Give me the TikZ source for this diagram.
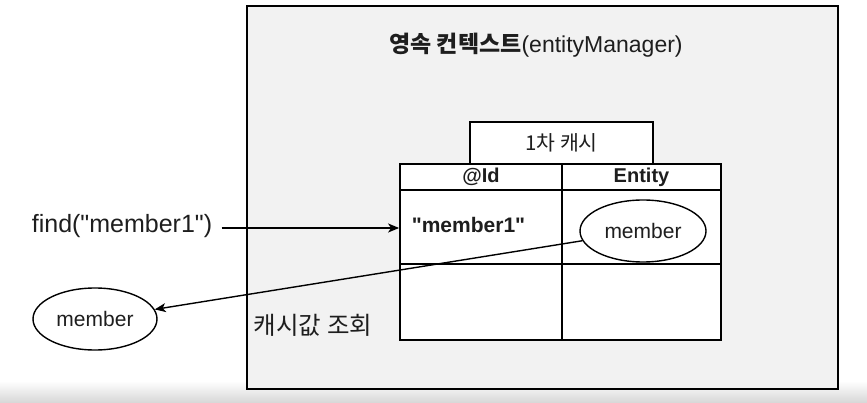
\documentclass[tikz,border=0pt]{standalone}
\usepackage{fontspec}
\setmainfont{Liberation Sans}[Ligatures=TeXOff]
\newfontfamily\kr{Noto Sans CJK KR}
\usetikzlibrary{shapes.geometric,arrows.meta}
\definecolor{ctxgray}{RGB}{242,242,242}
\definecolor{txt}{RGB}{30,30,30}
\tikzset{
  cell/.style={draw, line width=1.8pt, fill=white, inner sep=0pt},
  ent/.style={ellipse, draw, line width=1.4pt, fill=white, inner sep=0pt, text=txt},
  arr/.style={line width=1.4pt, -{Stealth[length=11pt,width=9pt,inset=3pt]}},
}
\begin{document}
\begin{tikzpicture}[x=1pt,y=-1pt]
\useasboundingbox (0,0) rectangle (867,403);
\shade[top color=white, bottom color=black!16] (0,381) rectangle (867,403);
\node[draw, line width=1.8pt, fill=ctxgray, minimum width=591pt, minimum height=383pt, inner sep=0pt] (ctx) at (542.5,197.5) {};
\node[text=txt, font=\fontsize{23}{27}\selectfont] (title) at (536,45) {{\kr\bfseries 영속 컨텍스트}(entityManager)};
\node[cell, minimum width=183pt, minimum height=42pt, font=\fontsize{20.5}{24}\selectfont\kr, text=txt] (cache) at (561.5,143) {1차 캐시};
\node[cell, minimum width=162pt, minimum height=26pt, font=\fontsize{20}{24}\selectfont\bfseries, text=txt] (idh) at (481,177) {@Id};
\node[cell, minimum width=159pt, minimum height=26pt, font=\fontsize{20}{24}\selectfont\bfseries, text=txt] (enth) at (641.5,177) {Entity};
\node[cell, minimum width=162pt, minimum height=74pt] (c11) at (481,227) {};
\node[cell, minimum width=159pt, minimum height=74pt] (c12) at (641.5,227) {};
\node[cell, minimum width=162pt, minimum height=76pt] (c21) at (481,302) {};
\node[cell, minimum width=159pt, minimum height=76pt] (c22) at (641.5,302) {};
\node[text=txt, font=\fontsize{21}{25}\selectfont\bfseries] (key) at (468.5,225) {"member1"};
\node[ent, minimum width=126pt, minimum height=62pt, font=\fontsize{21}{25}\selectfont] (entm) at (643,231) {member};
\node[text=txt, font=\fontsize{25}{30}\selectfont] (find) at (122,226) {find("member1")};
\node[ent, minimum width=124pt, minimum height=62pt, font=\fontsize{21}{25}\selectfont] (memb) at (95,319) {member};
\node[text=txt, font=\fontsize{24.5}{29}\selectfont\kr] (query) at (313,325) {캐시값 조회};
\coordinate (findend) at (c11.west |- 0,228);
\draw[arr] (find.east |- findend) ++(6,0) -- (findend);
\draw[arr] (entm) -- (memb);
\end{tikzpicture}
\end{document}
